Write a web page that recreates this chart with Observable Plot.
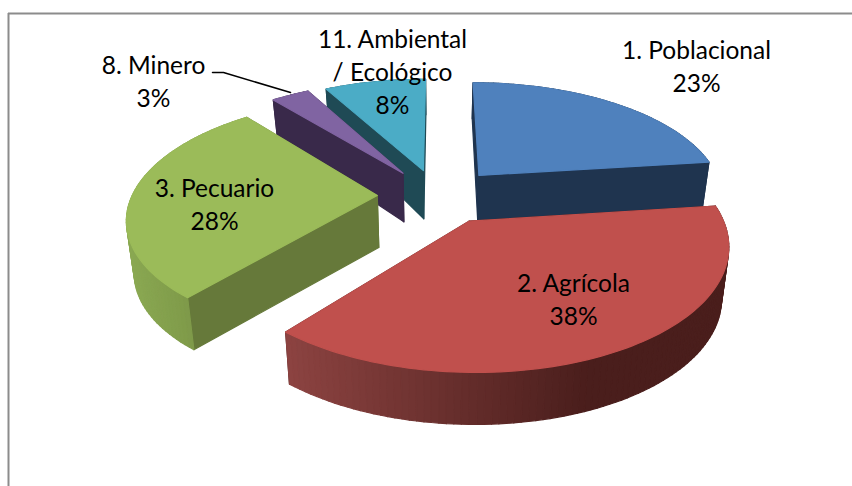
<!DOCTYPE html>
<html>
<head>
<meta charset="utf-8">
<script src="https://cdn.jsdelivr.net/npm/d3@7"></script>
<script src="https://cdn.jsdelivr.net/npm/@observablehq/plot@0.6"></script>
<style>html,body{margin:0;padding:0;background:#fff}svg{display:block}</style>
</head>
<body>
<div id="chart"></div>
<script>
// Data
const categories = ["1. Poblacional", "2. Agrícola", "3. Pecuario", "8. Minero", "11. Ambiental\n/ Ecológico"];
const values = [23, 38, 28, 3, 8];

// Styling and layout
const topColors = ["#4f81bd", "#c0504d", "#9bbb59", "#8064a2", "#4bacc6"];
const cutColors = ["#1f344f", "#4a1e1c", "#66793a", "#39294a", "#1f4a55"];
const explodeU = [0.17, 0.12, -0.25, -0.15, -0.064];
const explodeV = [-0.18, 0.215, 0, -0.2, -0.225];
const labelX = [696, 573, 214, 153, 392];
const labelY = [64, 297, 202, 79, 70];
const drawOrder = [0, 4, 3, 2, 1];

const cx = 438, cy = 195, rx = 245, ry = 115, k = 0.173, depth = 52, floorY = 426;
const scaleAt = v => 1 / (1 - k * v);
function project(u, v, lower) {
  const s = scaleAt(v);
  const x = cx + rx * u * s * (lower ? 0.975 : 1);
  const y = cy + ry * v * s + (lower ? depth * Math.pow(Math.min(s, 1), 2) : 0);
  return [x, lower ? Math.min(y, floorY) : y];
}

// Slice angles from the values
const total = d3.sum(values);
let running = 0;
const slices = values.map((value, i) => {
  const a0 = running / total * 2 * Math.PI;
  running += value;
  return {i, a0, a1: running / total * 2 * Math.PI};
});

function arcPoint(slice, a) {
  return [explodeU[slice.i] + Math.sin(a), explodeV[slice.i] - Math.cos(a)];
}

function arcColor(i, x) {
  if (i === 1) return d3.interpolateRgb("#8c4341", "#4a1e1c")(Math.min(1, Math.max(0, (x - 287) / 300)));
  if (i === 2) return d3.interpolateRgb("#8aa852", "#7d9848")(Math.min(1, Math.max(0, (x - 130) / 65)));
  return cutColors[i];
}

const faces = [];
let faceId = 0;
function addFace(corners, color) {
  const id = faceId++;
  corners.forEach(([x, y]) => faces.push({id, x, y, color}));
}
function sideQuad(p, q, color) {
  addFace([project(p[0], p[1], false), project(q[0], q[1], false),
           project(q[0], q[1], true), project(p[0], p[1], true)], color);
}

for (const idx of drawOrder) {
  const sl = slices[idx];
  const apex = [explodeU[idx], explodeV[idx]];
  const steps = Math.max(6, Math.round((sl.a1 - sl.a0) * 40));
  const rim = d3.range(steps + 1).map(t => arcPoint(sl, sl.a0 + (sl.a1 - sl.a0) * t / steps));
  const quads = [];
  quads.push({p: apex, q: rim[0], color: cutColors[idx]});
  quads.push({p: rim[steps], q: apex, color: cutColors[idx]});
  for (let t = 0; t < steps; t++) {
    const xm = project((rim[t][0] + rim[t + 1][0]) / 2, (rim[t][1] + rim[t + 1][1]) / 2, false)[0];
    quads.push({p: rim[t], q: rim[t + 1], color: arcColor(idx, xm)});
  }
  quads.sort((a, b) => (a.p[1] + a.q[1]) - (b.p[1] + b.q[1]));
  quads.forEach(f => sideQuad(f.p, f.q, f.color));
  addFace([apex, ...rim].map(p => project(p[0], p[1], false)), topColors[idx]);
}

const labels = categories.map((name, i) => ({
  text: `${name}\n${values[i]}%`, x: labelX[i], y: labelY[i]
}));
const leaderX = [212, 223, 290];
const leaderY = [72, 72, 92];
const leader = leaderX.map((x, i) => ({x, y: leaderY[i]}));

const plot = Plot.plot({
  width: 852, height: 486, margin: 0,
  x: {domain: [0, 852], range: [0, 852], axis: null},
  y: {domain: [0, 486], range: [0, 486], axis: null},
  style: {background: "#fff"},
  marks: [
    Plot.ruleY([13], {x1: 8, x2: 852, stroke: "#8c8c8c", strokeWidth: 2}),
    Plot.ruleX([8], {y1: 13, y2: 486, stroke: "#8c8c8c", strokeWidth: 2}),
    Plot.line(faces, {x: "x", y: "y", z: "id", fill: "color", stroke: "color", strokeWidth: 1.2, curve: "linear-closed", imageFilter: "blur(0.6px)"}),
    Plot.line(leader, {x: "x", y: "y", stroke: "#000", strokeWidth: 1.5}),
    Plot.text(labels, {x: "x", y: "y", text: "text", fill: "#000", fontSize: 24.5, lineHeight: 1.35,
      fontFamily: "Lato, sans-serif", textAnchor: "middle", lineAnchor: "middle"})
  ]
});
document.getElementById("chart").appendChild(plot);
</script>
</body>
</html>
